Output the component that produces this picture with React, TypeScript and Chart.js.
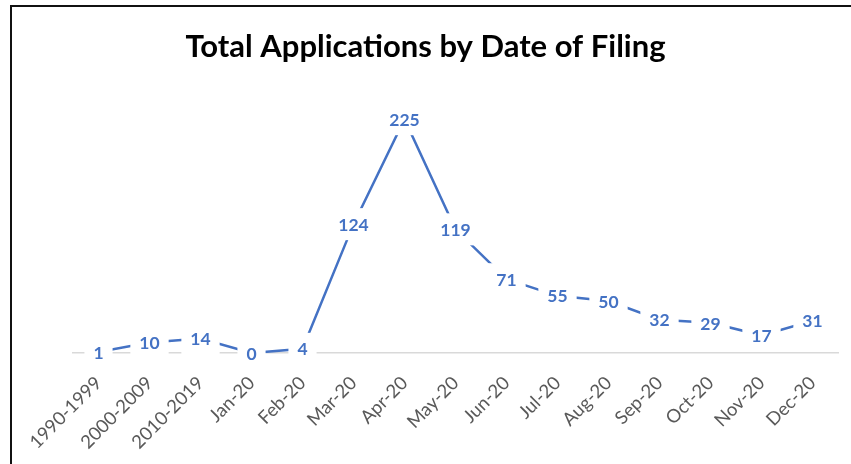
import React, { useEffect, useRef } from "react";
import { Chart, registerables } from "chart.js";

Chart.register(...registerables);

const categories = [
  "1990-1999", "2000-2009", "2010-2019", "Jan-20", "Feb-20", "Mar-20", "Apr-20",
  "May-20", "Jun-20", "Jul-20", "Aug-20", "Sep-20", "Oct-20", "Nov-20", "Dec-20",
];
const applications = [1, 10, 14, 0, 4, 124, 225, 119, 71, 55, 50, 32, 29, 17, 31];
const titleText = "Total Applications by Date of Filing";

const FONT = "Lato, 'Open Sans', sans-serif";
const BLUE = "#4472C4";

const labelPlugin = {
  id: "valueLabels",
  afterDatasetsDraw(chart: any) {
    const ctx = chart.ctx;
    const meta = chart.getDatasetMeta(0);
    const data = chart.data.datasets[0].data;
    ctx.save();
    ctx.font = `bold 17.5px ${FONT}`;
    ctx.textAlign = "center";
    ctx.textBaseline = "middle";
    meta.data.forEach((pt: any, i: number) => {
      const txt = String(data[i]);
      const w = ctx.measureText(txt).width + 18;
      const h = 32;
      ctx.fillStyle = "#ffffff";
      ctx.fillRect(pt.x - w / 2, pt.y - h / 2, w, h);
      ctx.fillStyle = BLUE;
      ctx.fillText(txt, pt.x, pt.y + 1);
    });
    ctx.restore();
  },
};

export default function App() {
  const ref = useRef<HTMLCanvasElement | null>(null);
  useEffect(() => {
    if (!ref.current) return;
    const chart = new Chart(ref.current, {
      type: "line",
      data: {
        labels: categories,
        datasets: [
          {
            data: applications,
            borderColor: BLUE,
            borderWidth: 2.5,
            pointRadius: 0,
            tension: 0,
            fill: false,
          },
        ],
      },
      options: {
        responsive: false,
        animation: false,
        devicePixelRatio: 1,
        layout: { padding: { left: 0, right: 0, top: 0, bottom: 0 } },
        plugins: {
          legend: { display: false },
          tooltip: { enabled: false },
          title: {
            display: true,
            text: titleText,
            color: "#000000",
            font: { family: FONT, size: 31, weight: "bold", lineHeight: 1.2 },
            padding: { top: 28, bottom: 28 },
          },
        },
        scales: {
          x: {
            offset: true,
            grid: { display: false, drawTicks: false },
            border: { display: true, color: "#d9d9d9", width: 1.5 },
            ticks: {
              autoSkip: false,
              maxRotation: 45,
              minRotation: 45,
              color: "#595959",
              font: { family: FONT, size: 18.5 },
              padding: 19,
            },
            afterFit: (scale: any) => {
              scale.height = 111;
            },
          },
          y: {
            min: 0,
            max: 250,
            display: true,
            grid: { display: false, drawTicks: false },
            border: { display: false },
            ticks: { display: false },
            afterFit: (scale: any) => {
              scale.width = 73;
            },
          },
          y2: {
            type: "linear",
            position: "right",
            display: true,
            grid: { display: false, drawTicks: false },
            border: { display: false },
            ticks: { display: false },
            afterFit: (scale: any) => {
              scale.width = 13;
            },
          },
        },
      },
      plugins: [labelPlugin],
    });
    return () => chart.destroy();
  }, []);

  return (
    <div style={{ position: "fixed", left: 0, top: 0, width: 851, height: 464, background: "#fff", overflow: "hidden" }}>
      <canvas ref={ref} width={851} height={464} style={{ position: "absolute", left: 0, top: 0, width: 851, height: 464 }} />
      <div style={{ position: "absolute", left: 10, top: 5, width: 841, height: 2, background: "#111" }} />
      <div style={{ position: "absolute", left: 10, top: 5, width: 2, height: 459, background: "#111" }} />
    </div>
  );
}
